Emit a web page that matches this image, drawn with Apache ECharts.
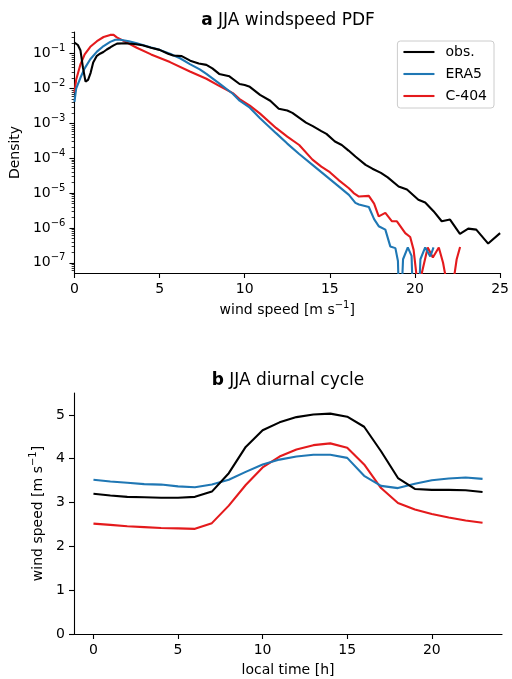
<!DOCTYPE html>
<html><head><meta charset="utf-8">
<script src="https://cdn.jsdelivr.net/npm/echarts@6/dist/echarts.min.js"></script>
<style>html,body{margin:0;padding:0;background:#fff}#c{width:512px;height:679px}</style>
</head><body><div id="c"></div>
<script>
// ---------- panel a: JJA windspeed PDF ----------
const obsX = [0,0.2,0.35,0.5,0.65,0.8,0.95,1.1,1.3,1.5,1.7,1.9,2.1,2.3,2.5,3.0,3.5,4.0,4.5,5.0,5.5,5.8,6.3,6.8,7.3,7.75,8.1,8.5,9.1,9.7,10.0,10.3,10.9,11.5,12.0,12.5,12.8,13.6,14.0,14.5,14.8,15.3,15.7,16.1,16.5,17.1,17.5,18.0,18.4,19.04,19.53,20.2,20.6,21.09,21.57,22.06,22.64,23.13,23.6,24.3,25.0];
const obsDensity = [2.09e-1,1.78e-1,1.26e-1,3.98e-2,1.58e-2,1.78e-2,2.82e-2,5.62e-2,8.51e-2,1.00e-1,1.12e-1,1.32e-1,1.51e-1,1.74e-1,1.95e-1,2.00e-1,1.91e-1,1.74e-1,1.48e-1,1.29e-1,1.00e-1,8.91e-2,8.51e-2,6.31e-2,5.25e-2,4.79e-2,3.80e-2,2.63e-2,2.24e-2,1.35e-2,1.26e-2,1.12e-2,6.61e-3,4.47e-3,2.63e-3,2.34e-3,2.00e-3,1.05e-3,8.32e-4,6.03e-4,5.01e-4,3.02e-4,2.40e-4,1.66e-4,1.12e-4,6.46e-5,5.01e-5,3.80e-5,2.82e-5,1.55e-5,1.26e-5,6.46e-6,5.37e-6,3.02e-6,1.55e-6,1.74e-6,6.76e-7,9.55e-7,8.91e-7,3.55e-7,7.08e-7];

const era5X = [0,0.1,0.35,0.6,0.93,1.32,1.71,2.1,2.4,2.7,3.2,3.66,4.5,5.0,5.61,6.2,6.78,7.36,7.75,8.5,9.3,9.7,10.3,10.9,11.84,12.5,13.2,13.98,14.5,15.0,15.5,16.12,16.5,16.71,17.29,17.6,17.87,18.26,18.55,18.85,19.0,19.12,19.3,19.58,19.8,19.95,20.15,20.32,20.6,20.9,21.09];
const era5Density = [4.17e-3,1.00e-2,2.04e-2,3.80e-2,6.92e-2,1.15e-1,1.66e-1,2.19e-1,2.51e-1,2.51e-1,2.29e-1,2.00e-1,1.51e-1,1.29e-1,1.00e-1,7.41e-2,5.01e-2,3.55e-2,2.63e-2,1.41e-2,7.08e-3,4.47e-3,2.82e-3,1.41e-3,5.25e-4,2.63e-4,1.32e-4,6.46e-5,3.98e-5,2.51e-5,1.58e-5,8.91e-6,5.25e-6,4.68e-6,3.98e-6,1.78e-6,1.12e-6,8.91e-7,2.95e-7,2.63e-7,1.12e-7,1e-9,1.26e-7,2.75e-7,1.58e-7,1e-9,1e-9,1.26e-7,2.75e-7,1.51e-7,2.75e-7];

const c404X = [0,0.1,0.35,0.6,0.93,1.32,1.71,2.1,2.3,2.49,3.0,3.66,4.5,5.61,6.78,7.75,8.5,9.3,9.7,10.3,10.9,11.84,12.5,13.2,13.98,14.5,15.0,15.5,16.12,16.4,16.71,17.29,17.6,17.87,18.26,18.65,18.94,19.43,19.72,19.92,20.1,20.2,20.4,20.75,21.05,21.4,21.65,21.8,22.0,22.3,22.45,22.65];
const c404Density = [7.59e-3,1.78e-2,4.90e-2,9.55e-2,1.58e-1,2.29e-1,3.02e-1,3.47e-1,3.47e-1,2.95e-1,2.19e-1,1.48e-1,9.55e-2,5.75e-2,3.09e-2,1.91e-2,1.20e-2,7.41e-3,5.01e-3,3.24e-3,1.91e-3,7.41e-4,4.17e-4,2.40e-4,9.12e-5,5.75e-5,3.98e-5,2.40e-5,1.38e-5,1.00e-5,7.94e-6,8.32e-6,5.01e-6,2.14e-6,2.69e-6,1.55e-6,1.55e-6,7.08e-7,5.50e-7,2.34e-7,3.98e-8,1e-9,5.01e-8,2.75e-7,1.41e-7,2.75e-7,1.00e-7,3.98e-8,1e-9,3.98e-8,1.26e-7,2.82e-7];

const pdfXTicks = [0,5,10,15,20,25];
const pdfYTicks = [1e-7,1e-6,1e-5,1e-4,1e-3,1e-2,1e-1];

// ---------- panel b: JJA diurnal cycle ----------
const hours = [0,1,2,3,4,5,6,7,8,9,10,11,12,13,14,15,16,17,18,19,20,21,22,23];
const obsDiurnal  = [3.20,3.16,3.13,3.12,3.11,3.11,3.13,3.25,3.67,4.27,4.65,4.83,4.95,5.01,5.03,4.96,4.73,4.17,3.56,3.31,3.29,3.29,3.28,3.24];
const era5Diurnal = [3.52,3.48,3.45,3.42,3.41,3.37,3.35,3.41,3.52,3.70,3.87,3.98,4.05,4.09,4.09,4.02,3.61,3.38,3.33,3.43,3.51,3.55,3.57,3.54];
const c404Diurnal = [2.52,2.49,2.46,2.44,2.42,2.41,2.40,2.53,2.93,3.40,3.80,4.05,4.21,4.31,4.35,4.25,3.87,3.33,2.99,2.84,2.74,2.66,2.59,2.54];
const diurnalXTicks = [0,5,10,15,20];
const diurnalYTicks = [0,1,2,3,4,5];

const seriesNames = ['obs.','ERA5','C-404'];
const colors = ['#000000','#1f77b4','#e41a1c'];

// ---------- build ----------
const FONT = 'DejaVu Sans';
const TXT = '#000';
const FS = 14;
const pair = (xs, ys) => xs.map((x, i) => [x, ys[i]]);
const YMIN = 5.08e-8, YMAX = 0.42;
const minorVals = [];
for (let e = -8; e <= -1; e++) for (let m = 2; m <= 9; m++) {
  const v = +(m * Math.pow(10, e)).toPrecision(3);
  if (v > YMIN && v < YMAX) minorVals.push(v);
}
const rich = {
  n: {fontFamily: FONT, fontSize: FS, color: TXT, lineHeight: 20},
  s: {fontFamily: FONT, fontSize: 10, color: TXT, lineHeight: 10, verticalAlign: 'top'}
};
const supLabel = v => { const e = Math.round(Math.log10(v)); return '{n|10}{s|' + (e < 0 ? '\u2212' : '') + Math.abs(e) + '}'; };
const axisLine = {show: true, onZero: false, lineStyle: {color: '#000', width: 1.1}};
const tick = vals => ({show: true, inside: false, length: 5, customValues: vals, lineStyle: {color: '#000', width: 1.1}});
const label = (vals, extra) => Object.assign({customValues: vals, fontFamily: FONT, fontSize: FS, color: TXT, margin: 9}, extra || {});

const lineSeries = (name, i, data, xi, yi) => ({
  name, type: 'line', data, xAxisIndex: xi, yAxisIndex: yi,
  symbol: 'none', showSymbol: false, clip: true,
  lineStyle: {color: colors[i], width: 2.1}, itemStyle: {color: colors[i]}, z: 5 - i
});

const option = {
  animation: false,
  backgroundColor: '#fff',
  textStyle: {fontFamily: FONT},
  grid: [
    {left: 74, top: 32, width: 428, height: 241},
    {left: 74, top: 393, width: 428, height: 241}
  ],
  legend: {
    data: seriesNames, orient: 'vertical', right: 18, top: 41,
    itemWidth: 31, itemHeight: 14, itemGap: 8,
    padding: [4, 7, 5, 5],
    itemStyle: {opacity: 0},
    lineStyle: {width: 2.1},
    borderColor: '#cccccc', borderWidth: 1, borderRadius: 3, backgroundColor: '#fff',
    textStyle: {fontFamily: FONT, fontSize: FS, color: TXT, padding: [0, 0, 0, 6]}
  },
  xAxis: [
    {type: 'value', gridIndex: 0, min: 0, max: 25, interval: 5,
     axisLine, axisTick: tick(pdfXTicks), splitLine: {show: false},
     axisLabel: label(pdfXTicks),
     name: '{n|wind speed [m s}{s|\u22121}{n|]}', nameLocation: 'middle', nameGap: 27,
     nameTextStyle: {rich, fontFamily: FONT, fontSize: FS, color: TXT}},
    {type: 'value', gridIndex: 1, min: -1.15, max: 24.15,
     axisLine, axisTick: tick(diurnalXTicks), splitLine: {show: false},
     axisLabel: label(diurnalXTicks),
     name: 'local time [h]', nameLocation: 'middle', nameGap: 29,
     nameTextStyle: {fontFamily: FONT, fontSize: FS, color: TXT}}
  ],
  yAxis: [
    {type: 'log', gridIndex: 0, min: YMIN, max: YMAX, logBase: 10,
     axisLine, axisTick: tick(pdfYTicks), splitLine: {show: false}, minorTick: {show: false},
     axisLabel: label(pdfYTicks, {formatter: supLabel, rich, margin: 9}),
     name: 'Density', nameLocation: 'middle', nameGap: 46, nameRotate: 90,
     nameTextStyle: {fontFamily: FONT, fontSize: FS, color: TXT}},
    {type: 'log', gridIndex: 0, position: 'left', min: YMIN, max: YMAX, logBase: 10,
     axisLine: {show: false, onZero: false}, splitLine: {show: false},
     axisTick: {show: true, inside: false, length: 2.8, customValues: minorVals, lineStyle: {color: '#000', width: 0.8}},
     axisLabel: {show: false}},
    {type: 'value', gridIndex: 1, min: 0, max: 5.5,
     axisLine, axisTick: tick(diurnalYTicks), splitLine: {show: false},
     axisLabel: label(diurnalYTicks),
     name: '{n|wind speed [m s}{s|\u22121}{n|]}', nameLocation: 'middle', nameGap: 20, nameRotate: 90,
     nameTextStyle: {rich, fontFamily: FONT, fontSize: FS, color: TXT}}
  ],
  series: [
    lineSeries(seriesNames[0], 0, pair(obsX, obsDensity), 0, 0),
    lineSeries(seriesNames[1], 1, pair(era5X, era5Density), 0, 0),
    lineSeries(seriesNames[2], 2, pair(c404X, c404Density), 0, 0),
    lineSeries(seriesNames[0], 0, pair(hours, obsDiurnal), 1, 2),
    lineSeries(seriesNames[1], 1, pair(hours, era5Diurnal), 1, 2),
    lineSeries(seriesNames[2], 2, pair(hours, c404Diurnal), 1, 2)
  ],
  graphic: [
    {type: 'text', x: 288, y: 21, style: {text: '{b|a} JJA windspeed PDF', align: 'center', verticalAlign: 'middle',
      fontFamily: FONT, fontSize: 17, fill: TXT, rich: {b: {fontFamily: FONT, fontSize: 17, fontWeight: 'bold', fill: TXT}}}},
    {type: 'text', x: 288, y: 381, style: {text: '{b|b} JJA diurnal cycle', align: 'center', verticalAlign: 'middle',
      fontFamily: FONT, fontSize: 17, fill: TXT, rich: {b: {fontFamily: FONT, fontSize: 17, fontWeight: 'bold', fill: TXT}}}}
  ]
};
const chart = echarts.init(document.getElementById('c'), null, {renderer: 'canvas', width: 512, height: 679});
chart.setOption(option);
</script>
</body></html>
